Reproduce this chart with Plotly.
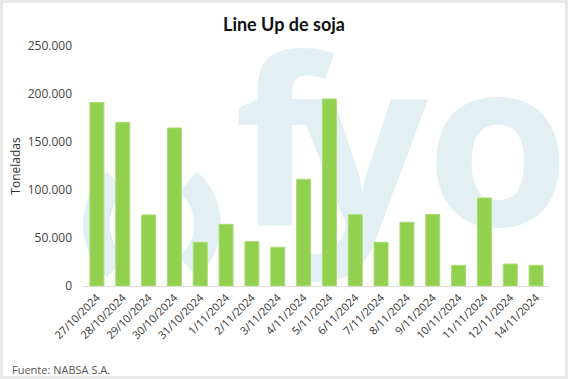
import base64
import plotly.graph_objects as go

categories = ["27/10/2024", "28/10/2024", "29/10/2024", "30/10/2024", "31/10/2024",
              "1/11/2024", "2/11/2024", "3/11/2024", "4/11/2024", "5/11/2024",
              "6/11/2024", "7/11/2024", "8/11/2024", "9/11/2024", "10/11/2024",
              "11/11/2024", "12/11/2024", "14/11/2024"]
toneladas = [191000, 170500, 74000, 164600, 45500, 64200, 46200, 40300, 111100,
             194800, 74300, 45500, 66400, 74600, 21500, 91700, 22900, 21500]
y_ticks = [0, 50000, 100000, 150000, 200000, 250000]

W, H = 568, 379
L, R, T, B = 84, 19, 46, 93
PW, PH = W - L - R, H - T - B

wm = "#e2f0f4"
svg = f'''<svg xmlns="http://www.w3.org/2000/svg" width="{W}" height="{H}" viewBox="0 0 {W} {H}">
<path d="M116,182 A56,56 0 0 0 116,267" fill="none" stroke="{wm}" stroke-width="27"/>
<path d="M188,182 A56,56 0 0 1 188,267" fill="none" stroke="{wm}" stroke-width="27"/>
<g font-family="Open Sans" font-weight="bold" font-size="232" fill="{wm}">
<text x="234" y="226">f</text>
<text x="296" y="226">y</text>
<text x="426" y="226">o</text>
</g>
</svg>'''
svg_uri = "data:image/svg+xml;base64," + base64.b64encode(svg.encode()).decode()

fig = go.Figure()
fig.add_trace(go.Bar(
    x=categories, y=toneladas,
    marker=dict(color="#92D050", line=dict(color="#a8dc70", width=1)),
))

fig.update_layout(
    width=W, height=H,
    margin=dict(l=L, r=R, t=T, b=B),
    paper_bgcolor="white",
    plot_bgcolor="rgba(0,0,0,0)",
    separators=",.",
    bargap=0.46,
    showlegend=False,
    font=dict(family="Open Sans", color="#404040"),
    title=dict(text="<b>Line Up de soja</b>", x=0.5, xanchor="center", y=1 - 25 / H, yanchor="middle",
               font=dict(family="Lato", size=18, color="#111111")),
    xaxis=dict(
        type="category", tickangle=-45, showgrid=False, ticks="",
        showline=True, linecolor="#d9d9d9", linewidth=1,
        tickfont=dict(family="Open Sans", size=11, color="#333333"),
    ),
    yaxis=dict(
        range=[0, 250000], tickvals=y_ticks, tickformat=",.0f", showgrid=False,
        zeroline=False, showline=False, ticks="", ticklabelstandoff=11,
        tickfont=dict(family="Open Sans", size=12, color="#444444"),
        title=dict(text="Toneladas", font=dict(family="Open Sans", size=12, color="#333333"), standoff=4),
    ),
    images=[dict(source=svg_uri, xref="paper", yref="paper",
                 x=-L / PW, y=1 + T / PH, sizex=W / PW, sizey=H / PH,
                 xanchor="left", yanchor="top", sizing="stretch", layer="below")],
    shapes=[dict(type="rect", xref="paper", yref="paper",
                 x0=(1.5 - L) / PW, x1=(W - 1.5 - L) / PW,
                 y0=-(B - 1.5) / PH, y1=1 + (T - 1.5) / PH,
                 line=dict(color="#e8e8e8", width=3), fillcolor="rgba(0,0,0,0)", layer="below")],
    annotations=[dict(text="Fuente: NABSA S.A.", xref="paper", yref="paper",
                      x=(10 - L) / PW, y=-(369 - T - PH) / PH, xanchor="left", yanchor="middle",
                      showarrow=False, font=dict(family="Open Sans", size=11, color="#555555"))],
)

fig.write_html("out.html", config={"displayModeBar": False},
               post_script="document.body.style.margin='0';document.body.style.overflow='hidden';")
